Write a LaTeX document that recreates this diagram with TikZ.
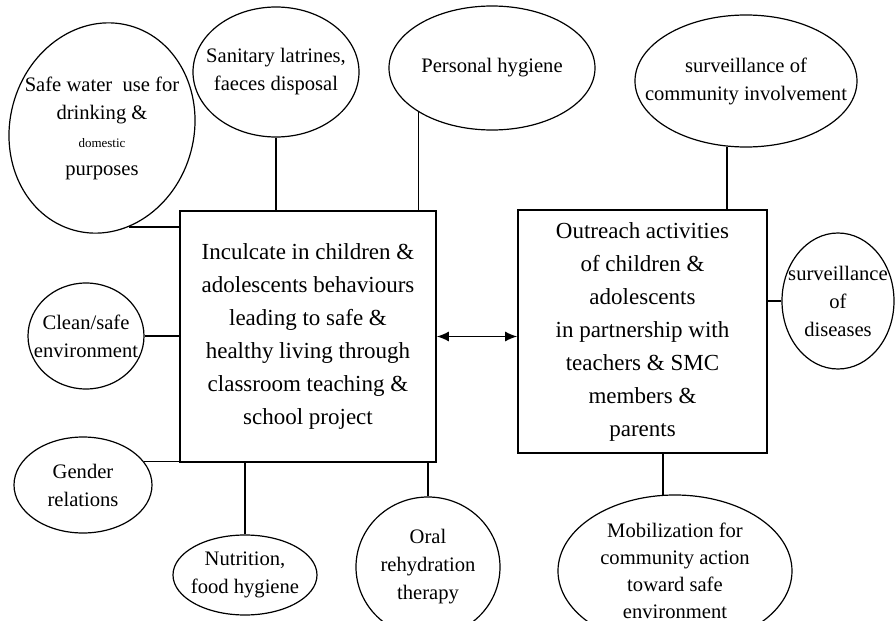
\documentclass[tikz,border=0pt]{standalone}
\usepackage{fontspec}
\setmainfont{Liberation Serif}
\usepackage{tikz}
\usetikzlibrary{shapes.geometric, arrows.meta}
\tikzstyle{topic}=[ellipse, draw, line width=0.6pt, inner sep=-16pt, align=center, font=\fontsize{10.3}{14}\selectfont]
\tikzstyle{task}=[rectangle, draw, line width=0.9pt, inner sep=2pt, align=center, font=\fontsize{11.5}{16.5}\selectfont]
\tikzstyle{link}=[line width=0.9pt]
\newcommand{\topic}{\node[topic]}
\newcommand{\task}{\node[task]}

\begin{document}
\begin{tikzpicture}[x=0.5pt, y=-0.5pt]
\useasboundingbox (0,0) rectangle (896,621);
\task[minimum width=128pt, minimum height=125.5pt] (incul) at (308,336.5) {Inculcate in children \&\\ adolescents behaviours\\ leading to safe \&\\ healthy living through\\ classroom teaching \&\\ school project};
\task[minimum width=124.5pt, minimum height=121.5pt] (outreach) at (642.5,331.5) {Outreach activities\\ of children \&\\ adolescents\\ in partnership with\\ teachers \& SMC\\ members \&\\ parents};

\topic[minimum width=92pt, minimum height=106pt, rotate=-15] (water) at (102,128) {\rotatebox{15}{\begin{tabular}{@{}c@{}}Safe water\ \ use for\\ drinking \&\\ {\fontsize{6.5}{8}\selectfont domestic}\\ purposes\end{tabular}}};
\topic[minimum width=83pt, minimum height=65pt] (latrines) at (276,72) {Sanitary latrines,\\ faeces disposal};
\topic[minimum width=103pt, minimum height=62pt] (hygiene) at (492,68) {Personal hygiene};
\topic[minimum width=111pt, minimum height=66pt] (community) at (746,81) {surveillance of\\ community involvement};
\topic[minimum width=56pt, minimum height=68pt] (diseases) at (838,301) {surveillance\\ of\\ diseases};
\topic[minimum width=58pt, minimum height=53pt] (cleanenv) at (86,336) {Clean/safe\\ environment};
\topic[minimum width=69pt, minimum height=48pt] (gender) at (83,485) {Gender\\ relations};
\topic[minimum width=72pt, minimum height=40pt] (nutrition) at (245,575) {Nutrition,\\ food hygiene};
\topic[minimum width=72pt, minimum height=70pt] (oral) at (428,567) {Oral\\ rehydration\\ therapy};
\topic[minimum width=117pt, minimum height=76pt, font=\fontsize{10.3}{13.5}\selectfont] (mobil) at (675,571) {Mobilization for\\ community action\\ toward safe\\ environment};

\path[link]
    (water.-60) edge (water.-60 -| incul.west)
    (latrines.south) edge (latrines.south |- incul.north)
    (hygiene.211) edge (hygiene.211 |- incul.north)
    (community.254) edge (community.254 |- outreach.north)
    (diseases.west) edge (diseases.west -| outreach.east)
    (cleanenv.east) edge (cleanenv.east -| incul.west)
    (gender.21) edge (gender.21 -| incul.west)
    (nutrition.north) edge (nutrition.north |- incul.south)
    (oral.north) edge (oral.north |- incul.south)
    (mobil.99) edge (mobil.99 |- outreach.south)
    ;
\draw[{Latex[length=6pt,width=5pt]}-{Latex[length=6pt,width=5pt]}, line width=0.6pt] (incul.east) -- (incul.east -| outreach.west);
\end{tikzpicture}
\end{document}
